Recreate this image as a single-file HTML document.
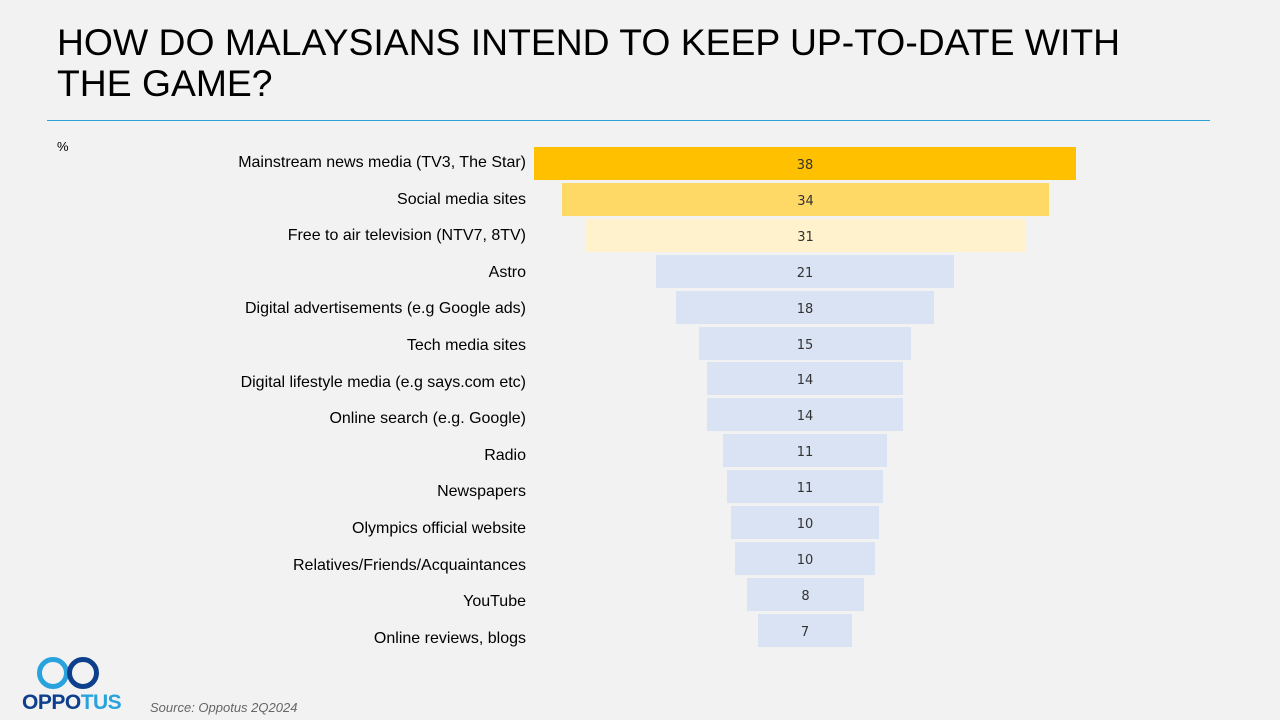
<!DOCTYPE html>
<html><head><meta charset="utf-8"><style>
body{margin:0;width:1280px;height:720px;background:#f2f2f2;position:relative;overflow:hidden;font-family:"Liberation Sans",sans-serif}
.t{position:absolute;left:57px;top:22px;font-size:37.3px;line-height:41px;color:#000}
.hr{position:absolute;left:47px;top:120px;width:1163px;height:1px;background:#2ea3d8}
.lab{position:absolute;right:754px;font-size:16px;color:#000;white-space:nowrap;line-height:33px}
.bar{position:absolute;height:33px;font-size:13px;color:#333;text-align:center;line-height:37px;font-family:"DejaVu Sans",sans-serif}
</style></head><body>
<div class="t">HOW DO MALAYSIANS INTEND TO KEEP UP-TO-DATE WITH<br>THE GAME?</div>
<div class="hr"></div>
<div style="position:absolute;left:57px;top:139px;font-size:13px">%</div>
<div id="c"></div>
<svg style="position:absolute;left:36px;top:656px" width="66" height="36"><circle cx="17" cy="17" r="13.5" fill="none" stroke="#29a3de" stroke-width="5"/><circle cx="47" cy="17" r="13.5" fill="none" stroke="#0e3f8c" stroke-width="5"/></svg>
<div style="position:absolute;left:22px;top:691px;font-size:21px;font-weight:bold;letter-spacing:-0.5px"><span style="color:#0e3f8c">OPPO</span><span style="color:#29a3de">TUS</span></div>
<div style="position:absolute;left:150px;top:700px;font-size:13px;font-style:italic;color:#666">Source: Oppotus 2Q2024</div>
<script>
var d=[["Mainstream news media (TV3, The Star)",38,534,1076,"#ffc000"],["Social media sites",34,562,1049,"#ffd966"],["Free to air television (NTV7, 8TV)",31,586,1025,"#fff2cc"],["Astro",21,656,954],["Digital advertisements (e.g Google ads)",18,676,934],["Tech media sites",15,699,911],["Digital lifestyle media (e.g says.com etc)",14,707,903],["Online search (e.g. Google)",14,707,903],["Radio",11,723,887],["Newspapers",11,727,883],["Olympics official website",10,731,879],["Relatives/Friends/Acquaintances",10,735,875],["YouTube",8,747,864],["Online reviews, blogs",7,758,852]];
var h="";d.forEach(function(r,i){var y=147+i*35.9;var ly=146+i*36.6;h+='<div class="lab" style="top:'+ly+'px">'+r[0]+'</div><div class="bar" style="top:'+y+'px;left:'+r[2]+'px;width:'+(r[3]-r[2])+'px;background:'+(r[4]||"#dae3f3")+'">'+r[1]+'</div>';});
document.getElementById("c").innerHTML=h;
</script>
</body></html>
